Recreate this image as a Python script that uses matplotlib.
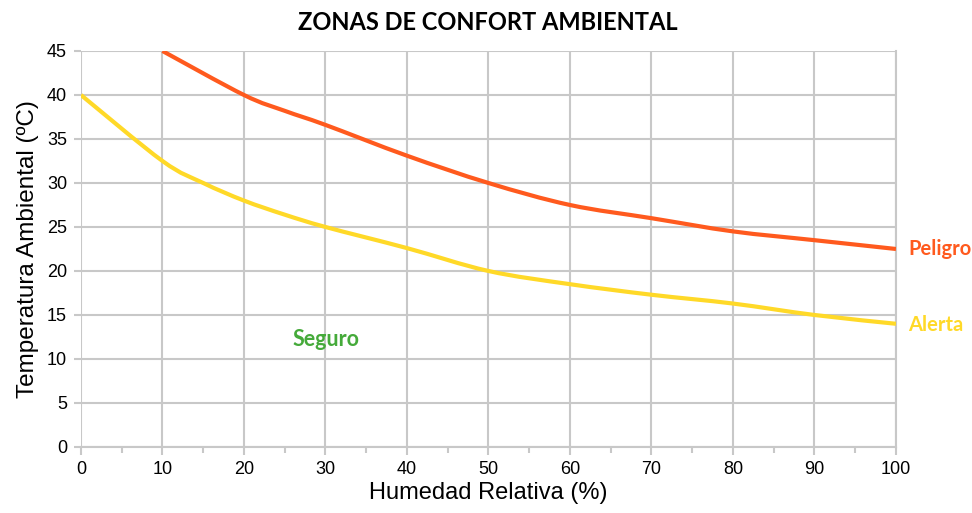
import numpy as np
import matplotlib
matplotlib.use("Agg")
import matplotlib.pyplot as plt
from matplotlib.path import Path
from matplotlib.patches import PathPatch

# Datos
humedad_peligro = [10, 20, 25, 30, 40, 50, 60, 70, 80, 90, 100]
temp_peligro = [45, 40, 38.2, 36.6, 33.1, 30, 27.5, 26, 24.5, 23.5, 22.5]

humedad_alerta = [0, 10, 15, 20, 25, 30, 40, 50, 60, 70, 80, 90, 100]
temp_alerta = [40, 32.5, 30, 28, 26.4, 25, 22.6, 20, 18.5, 17.3, 16.3, 15, 14]

x_ticks = list(range(0, 101, 10))
y_ticks = list(range(0, 46, 5))

plt.rcParams["font.family"] = ["Liberation Sans", "DejaVu Sans"]


def curva_suave(ax, xs, ys, color):
    # curva tipo Excel: Bezier cubica a partir de Catmull-Rom
    xs = np.asarray(xs, float)
    ys = np.asarray(ys, float)
    pts = np.column_stack([xs, ys])
    n = len(pts)
    verts = [pts[0]]
    codes = [Path.MOVETO]
    for i in range(n - 1):
        p0 = pts[i - 1] if i > 0 else pts[i]
        p1 = pts[i]
        p2 = pts[i + 1]
        p3 = pts[i + 2] if i + 2 < n else pts[i + 1]
        c1 = p1 + (p2 - p0) / 6.0
        c2 = p2 - (p3 - p1) / 6.0
        verts += [c1, c2, p2]
        codes += [Path.CURVE4] * 3
    patch = PathPatch(Path(verts, codes), facecolor="none", edgecolor=color,
                      lw=3.0, capstyle="butt", zorder=3)
    ax.add_patch(patch)


fig = plt.figure(figsize=(9.72, 5.13), dpi=100)
ax = fig.add_axes([0.0833, 0.1287, 0.8385, 0.7719])

curva_suave(ax, humedad_peligro, temp_peligro, "#ff5a1e")
curva_suave(ax, humedad_alerta, temp_alerta, "#ffd928")

ax.set_xlim(0, 100)
ax.set_ylim(0, 45)
ax.set_xticks(x_ticks)
ax.set_yticks(y_ticks)
ax.set_xticks(range(5, 100, 10), minor=True)
ax.grid(True, color="#c8c8c8", lw=1.5)
ax.set_axisbelow(True)
for s in ["top", "left"]:
    ax.spines[s].set_visible(False)
ax.spines["bottom"].set_color("#c8c8c8")
ax.spines["bottom"].set_linewidth(1.5)
ax.spines["right"].set_color("#c8c8c8")
ax.spines["right"].set_linewidth(1.5)
ax.tick_params(axis="both", which="both", color="#c8c8c8", width=1.5, labelsize=13)
ax.tick_params(axis="x", which="major", length=6, pad=4)
ax.tick_params(axis="x", which="minor", length=4)
ax.tick_params(axis="y", length=5, pad=5)

ax.set_xlabel("Humedad Relativa (%)", fontsize=17, labelpad=3)
ax.set_ylabel("Temperatura Ambiental (ºC)", fontsize=17.5, labelpad=6)
fig.text(0.502, 0.957, "ZONAS DE CONFORT AMBIENTAL", ha="center", va="center",
         fontsize=17, fontweight="bold", family=["Lato", "DejaVu Sans"])

ax.text(101.5, 22.5, "Peligro", color="#ff5a1e", fontsize=14.5, fontweight="bold",
        va="center", clip_on=False, family=["Lato", "DejaVu Sans"])
ax.text(101.5, 13.9, "Alerta", color="#ffd928", fontsize=14.5, fontweight="bold",
        va="center", clip_on=False, family=["Lato", "DejaVu Sans"])
ax.text(25.9, 12.2, "Seguro", color="#45aa3a", fontsize=15.5, fontweight="bold",
        va="center", family=["Lato", "DejaVu Sans"])

fig.savefig("out.png", dpi=100)
